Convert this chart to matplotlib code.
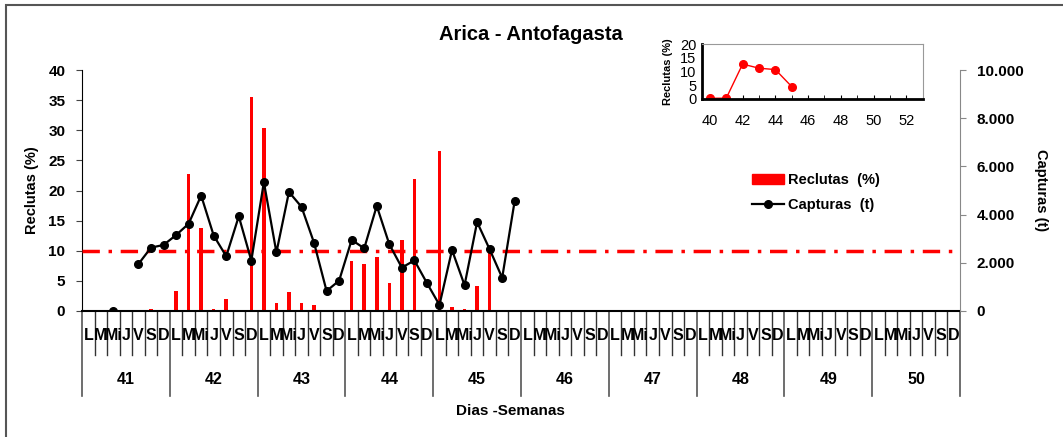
import numpy as np
import matplotlib
matplotlib.use('Agg')
import matplotlib.pyplot as plt
import matplotlib.transforms as mtransforms
from matplotlib.patches import Rectangle, Patch
from matplotlib.lines import Line2D
from matplotlib.ticker import FuncFormatter, MultipleLocator

plt.rcParams['font.family'] = ['Liberation Sans', 'DejaVu Sans']
plt.rcParams['font.weight'] = 'bold'
plt.rcParams['axes.labelweight'] = 'bold'

semanas = [41, 42, 43, 44, 45, 46, 47, 48, 49, 50]
dias = ['L', 'M', 'Mi', 'J', 'V', 'S', 'D']

# reclutas (%) por dia, una fila por semana
reclutas_sem = [
    [0, 0, 0, 0, 0, 0.4, 0],
    [3.4, 22.7, 13.8, 0.3, 2.0, 0, 35.5],
    [30.3, 1.4, 3.2, 1.4, 1.0, 0, 0],
    [8.3, 7.8, 9.0, 4.7, 11.8, 21.9, 0],
    [26.5, 0.6, 0.4, 4.2, 10.0, 0, 0],
    [0, 0, 0, 0, 0, 0, 0],
    [0, 0, 0, 0, 0, 0, 0],
    [0, 0, 0, 0, 0, 0, 0],
    [0, 0, 0, 0, 0, 0, 0],
    [0, 0, 0, 0, 0, 0, 0],
]

nan = np.nan
# capturas (t) por dia
capturas_sem = [
    [nan, nan, 0, nan, 1950, 2630, 2740],
    [3150, 3620, 4790, 3130, 2270, 3930, 2090],
    [5350, 2430, 4940, 4320, 2830, 830, 1260],
    [2950, 2600, 4360, 2770, 1800, 2100, 1160],
    [250, 2530, 1070, 3690, 2560, 1380, 4580],
    [nan] * 7,
    [nan] * 7,
    [nan] * 7,
    [nan] * 7,
    [nan] * 7,
]

umbral = 10

# recuadro: reclutas por semana
sem_inset = [40, 41, 42, 43, 44, 45]
rec_inset = [0.25, 0.3, 12.7, 11.2, 10.7, 4.5]

reclutas = np.array(reclutas_sem, dtype=float).ravel()
capturas = np.array(capturas_sem, dtype=float).ravel()
n = len(reclutas)
x = np.arange(n)

W, H = 1063, 437
fig = plt.figure(figsize=(W / 100, H / 100), dpi=100)

# marco de la figura
fig.patches.append(Rectangle((6 / W, -0.1), 1.2, 1 - 5 / H + 0.1, transform=fig.transFigure,
                             fill=False, edgecolor='#555555', lw=1.5))

ax = fig.add_axes([82 / W, 1 - 311 / H, 878 / W, 241 / H])
ax.bar(x, reclutas, width=0.28, color='red', zorder=2)
ax.axhline(umbral, color='red', lw=2.5, dashes=(5, 2.5, 1, 2.5), zorder=3)
ax.set_xlim(-0.5, n - 0.5)
ax.set_ylim(0, 40)
ax.yaxis.set_major_locator(MultipleLocator(5))
ax.set_xticks([])
ax.tick_params(axis='y', direction='out', length=4, labelsize=11, pad=8, color='#444444')
for s in ['top', 'right']:
    ax.spines[s].set_visible(False)
ax.spines['left'].set_color('black')
ax.spines['bottom'].set_linewidth(1.5)
ax.set_ylabel('Reclutas (%)', fontsize=10.5, labelpad=7)

# eje de categorias (dias y semanas)
trans = mtransforms.blended_transform_factory(ax.transData, ax.transAxes)
for b in range(n + 1):
    if b % 7 == 0:
        ax.plot([b - 0.5, b - 0.5], [0, -0.353], transform=trans, clip_on=False,
                color='#555555', lw=1.2)
    else:
        ax.plot([b - 0.5, b - 0.5], [0, -0.183], transform=trans, clip_on=False,
                color='#333333', lw=1)
for i in range(n):
    ax.text(i, -0.1, dias[i % 7], transform=trans, ha='center', va='center', fontsize=11.5)
for k, s in enumerate(semanas):
    ax.text(k * 7 + 3, -0.286, str(s), transform=trans, ha='center', va='center', fontsize=11.5)

ax2 = ax.twinx()
ax2.plot(x, capturas, color='black', lw=1.6, marker='o', ms=5.5)
ax2.set_ylim(0, 10000)
ax2.yaxis.set_major_locator(MultipleLocator(2000))
ax2.yaxis.set_major_formatter(FuncFormatter(lambda v, p: f'{int(v):,}'.replace(',', '.')))
ax2.tick_params(axis='y', direction='out', length=4, labelsize=11, pad=8, color='#888888')
for s in ['top', 'left', 'bottom']:
    ax2.spines[s].set_visible(False)
ax2.spines['right'].set_color('#888888')
ax2.set_ylabel('Capturas (t)', fontsize=10.5, rotation=270, labelpad=18)

fig.text(531 / W, 1 - 35 / H, 'Arica - Antofagasta', ha='center', va='center', fontsize=14.5)
fig.text(510 / W, 1 - 411 / H, 'Dias -Semanas', ha='center', va='center', fontsize=11)

handles = [Patch(color='red'),
           Line2D([], [], color='black', lw=1.6, marker='o', ms=5.5)]
fig.legend(handles, ['Reclutas  (%)', 'Capturas  (t)'], loc='upper left',
           bbox_to_anchor=(752 / W, 1 - 173 / H), frameon=False, fontsize=10.5,
           handlelength=2.2, handletextpad=0.3, labelspacing=0.75, borderpad=0,
           borderaxespad=0)

# recuadro
axi = fig.add_axes([701.7 / W, 1 - 99 / H, 221 / W, 55 / H])
axi.plot(sem_inset, rec_inset, color='red', lw=1, marker='o', ms=5.5)
axi.set_xlim(39.5, 53)
axi.set_ylim(0, 20)
axi.set_yticks([0, 5, 10, 15, 20])
axi.set_xticks(range(40, 53, 2))
axi.xaxis.set_minor_locator(MultipleLocator(1))
axi.tick_params(axis='x', which='both', direction='in', length=3, pad=11)
axi.tick_params(axis='y', length=0, pad=4)
axi.tick_params(labelsize=10.5)
for lab in axi.get_xticklabels() + axi.get_yticklabels():
    lab.set_fontweight('normal')
axi.spines['left'].set_linewidth(2)
axi.spines['bottom'].set_linewidth(2)
axi.spines['top'].set_color('#999999')
axi.spines['right'].set_color('#999999')
axi.set_ylabel('Reclutas (%)', fontsize=8, labelpad=5)

fig.savefig('out.png', dpi=100)
